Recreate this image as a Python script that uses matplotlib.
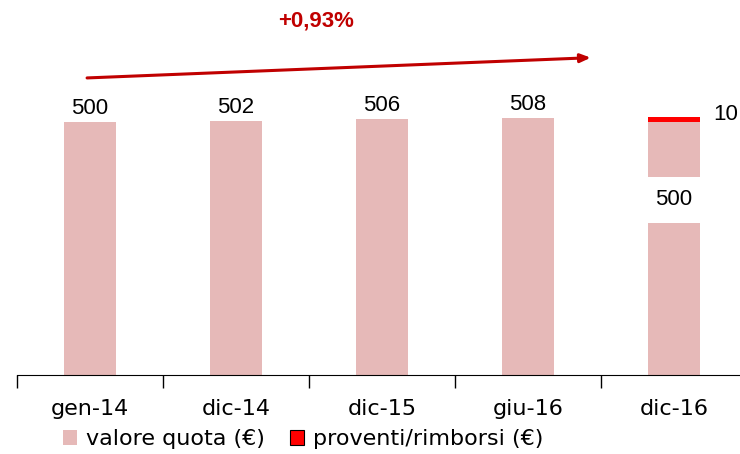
import numpy as np
import matplotlib.pyplot as plt
from matplotlib.patches import Patch

# Dati
categorie = ['gen-14', 'dic-14', 'dic-15', 'giu-16', 'dic-16']
valore_quota = [500, 502, 506, 508, 500]
proventi = [0, 0, 0, 0, 10]
variazione = '+0,93%'

rosa = '#E6B9B8'
rosso = '#FF0000'
rosso_scuro = '#C00000'

fig = plt.figure(figsize=(7.4, 4.54), dpi=100)
ax = fig.add_axes([17 / 740, 79 / 454, 730 / 740, 375 / 454])

x = np.arange(len(categorie))
ax.bar(x, valore_quota, width=0.36, color=rosa, label='valore quota (€)')
ax.bar(x, proventi, width=0.36, bottom=valore_quota, color=rosso,
       label='proventi/rimborsi (€)')

ax.set_xlim(-0.5, 4.5)
ax.set_ylim(0, 741)

# Etichette dei valori
for i in range(4):
    ax.annotate(str(valore_quota[i]), (x[i], valore_quota[i]), xytext=(0, 2),
                textcoords='offset points', ha='center', va='bottom',
                fontsize=16, family='Liberation Sans')
ax.text(x[4], 346, str(valore_quota[4]), ha='center', va='center',
        fontsize=16, family='Liberation Sans',
        bbox=dict(boxstyle='square,pad=0.55', fc='white', ec='none'))
ax.annotate(str(proventi[4]), (x[4] + 0.18, valore_quota[4] + proventi[4]),
            xytext=(9, 2), textcoords='offset points', ha='left', va='center',
            fontsize=16, family='Liberation Sans')

# Freccia della variazione
ax.annotate('', xy=(3.43, 627), xytext=(-0.02, 587),
            arrowprops=dict(arrowstyle='-|>,head_length=0.6,head_width=0.25',
                            color=rosso_scuro, lw=2.2, shrinkA=0, shrinkB=0))
ax.text(1.55, 700, variazione, ha='center', va='center', fontsize=16,
        fontweight='bold', color=rosso_scuro, family='Liberation Sans')

# Assi
for s in ['top', 'right', 'left']:
    ax.spines[s].set_visible(False)
ax.set_yticks([])
ax.set_xticks(np.arange(-0.5, 4.5, 1))
ax.set_xticklabels([])
ax.set_xticks(x, minor=True)
ax.set_xticklabels(categorie, minor=True, fontsize=16, family='DejaVu Sans')
ax.tick_params(axis='x', which='major', length=9, width=1, direction='out')
ax.tick_params(axis='x', which='minor', length=0, pad=17)

handles = [Patch(facecolor=rosa, edgecolor='none', label='valore quota (€)'),
           Patch(facecolor=rosso, edgecolor='black', lw=0.8, label='proventi/rimborsi (€)')]
fig.legend(handles=handles, loc='center left', bbox_to_anchor=(63 / 740, 15 / 454),
           ncol=2, frameon=False, borderpad=0, borderaxespad=0,
           handlelength=0.65, handleheight=0.65, handletextpad=0.4,
           columnspacing=1.1, prop={'family': 'DejaVu Sans', 'size': 16})

fig.savefig('out.png', dpi=100)
